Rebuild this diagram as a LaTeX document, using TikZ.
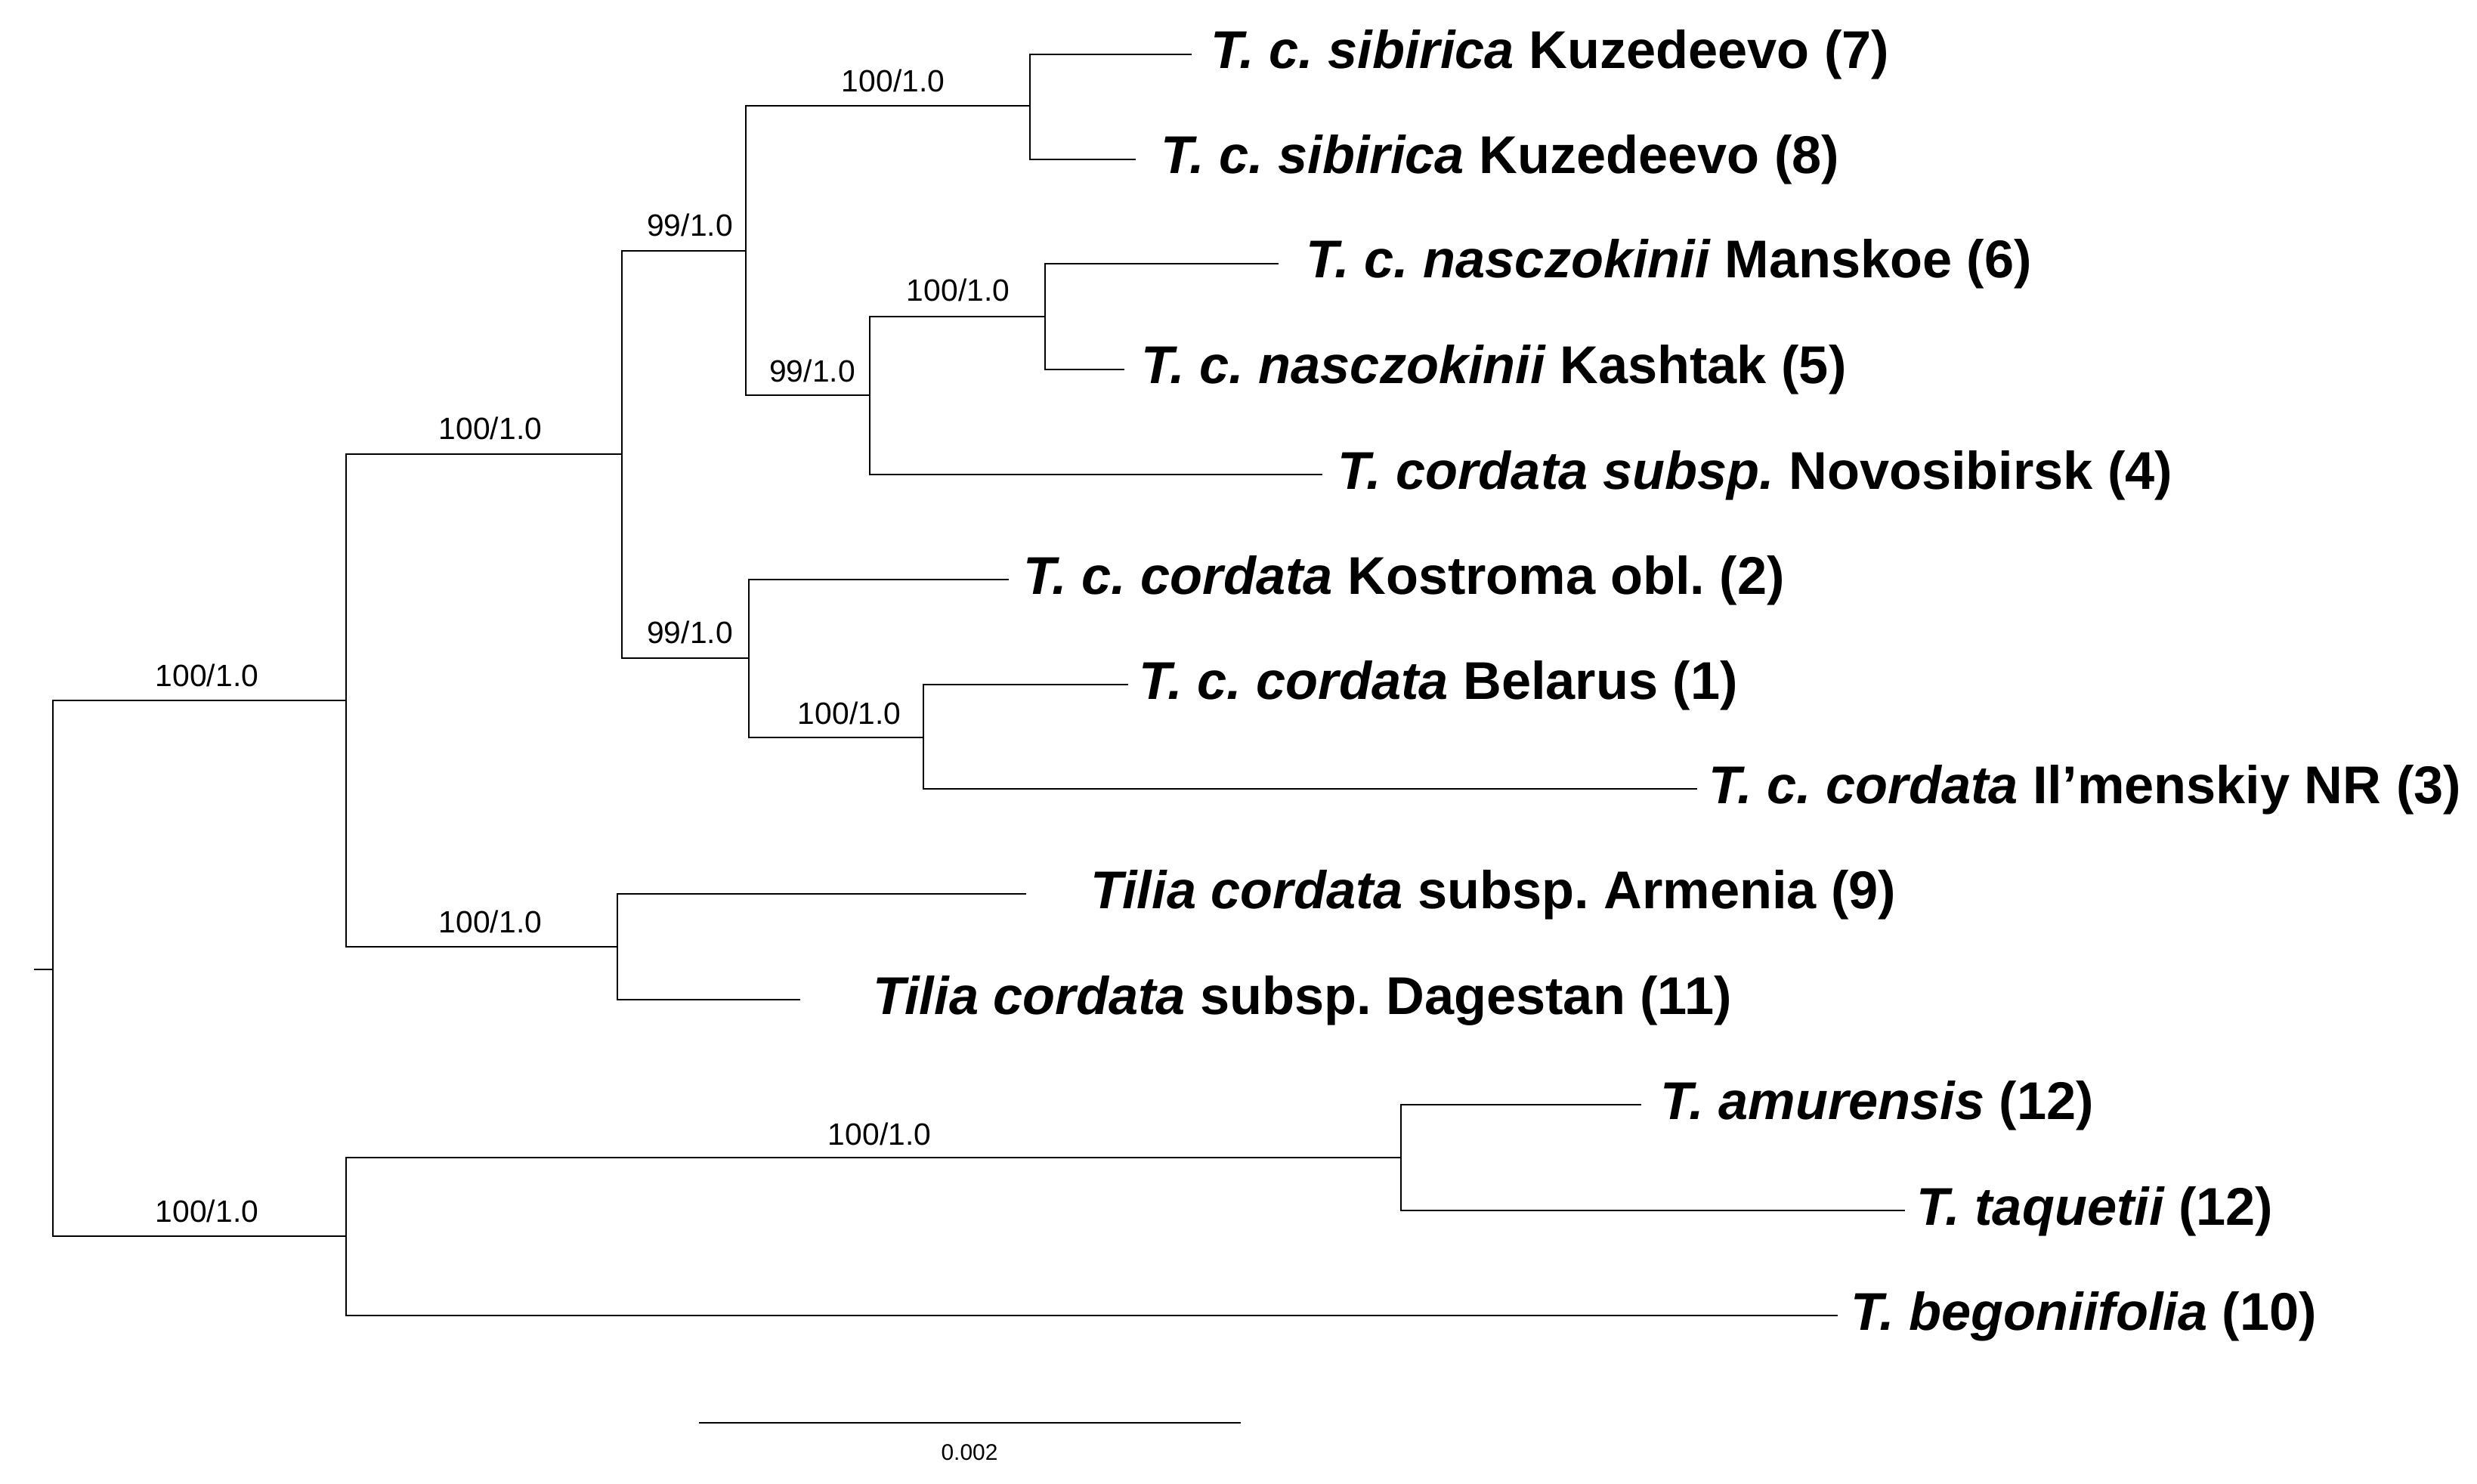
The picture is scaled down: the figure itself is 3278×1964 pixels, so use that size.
\documentclass[tikz,border=0pt]{standalone}
\usepackage{fontspec}
\setmainfont{Liberation Sans}
\frenchspacing
\begin{document}
\begin{tikzpicture}[x=0.01cm,y=-0.01cm,
  branch/.style={line width=0.65pt, black},
  tiplabel/.style={anchor=base west, inner sep=0pt, font=\fontsize{20}{24}\selectfont\bfseries},
  support/.style={anchor=base, inner sep=0pt, font=\fontsize{11.6}{14}\selectfont},
  scalelabel/.style={anchor=center, inner sep=0pt, font=\fontsize{8.5}{10}\selectfont}]
\useasboundingbox (0,0) rectangle (3278,1964);
% internal nodes
\coordinate (stub) at (45,1283);
\coordinate (R) at (70,1283);
\coordinate (A) at (458,927);
\coordinate (J) at (458,1636);
\coordinate (B) at (823,601);
\coordinate (I) at (817,1253);
\coordinate (C) at (987,332);
\coordinate (G) at (991,871);
\coordinate (D) at (1363,140);
\coordinate (E) at (1151,523);
\coordinate (F) at (1383,419);
\coordinate (H) at (1222,976);
\coordinate (K) at (1854,1532);
% tips
\coordinate (t7) at (1577,72);
\coordinate (t8) at (1503,211);
\coordinate (t6) at (1692,349);
\coordinate (t5) at (1488,489);
\coordinate (t4) at (1750,628);
\coordinate (t2) at (1335,767);
\coordinate (t1) at (1493,906);
\coordinate (t3) at (2246,1044);
\coordinate (t9) at (1358,1183);
\coordinate (t11) at (1059,1323);
\coordinate (ta) at (2172,1462);
\coordinate (tq) at (2521,1602);
\coordinate (t10) at (2432,1741);
% branches
\draw[branch] (stub) -- (R);
\draw[branch] (R) |- (A);
\draw[branch] (R) |- (J);
\draw[branch] (A) |- (B);
\draw[branch] (A) |- (I);
\draw[branch] (B) |- (C);
\draw[branch] (B) |- (G);
\draw[branch] (C) |- (D);
\draw[branch] (C) |- (E);
\draw[branch] (D) |- (t7);
\draw[branch] (D) |- (t8);
\draw[branch] (E) |- (F);
\draw[branch] (E) |- (t4);
\draw[branch] (F) |- (t6);
\draw[branch] (F) |- (t5);
\draw[branch] (G) |- (t2);
\draw[branch] (G) |- (H);
\draw[branch] (H) |- (t1);
\draw[branch] (H) |- (t3);
\draw[branch] (I) |- (t9);
\draw[branch] (I) |- (t11);
\draw[branch] (J) |- (K);
\draw[branch] (J) |- (t10);
\draw[branch] (K) |- (ta);
\draw[branch] (K) |- (tq);
% support values
\node[support] (sA) at (274,908) {100/1.0};
\node[support] (sB) at (649,582) {100/1.0};
\node[support] (sC) at (913,313) {99/1.0};
\node[support] (sD) at (1182,122) {100/1.0};
\node[support] (sE) at (1075,505) {99/1.0};
\node[support] (sF) at (1268,399) {100/1.0};
\node[support] (sG) at (913,851) {99/1.0};
\node[support] (sH) at (1124,958) {100/1.0};
\node[support] (sI) at (649,1234) {100/1.0};
\node[support] (sJ) at (274,1617) {100/1.0};
\node[support] (sK) at (1164,1515) {100/1.0};
% tip labels
\node[tiplabel] (l7) at (1602,91) {\itshape T. c. sibirica\upshape{} Kuzedeevo (7)};
\node[tiplabel] (l8) at (1536,230) {\itshape T. c. sibirica\upshape{} Kuzedeevo (8)};
\node[tiplabel] (l6) at (1728,368) {\itshape T. c. nasczokinii\upshape{} Manskoe (6)};
\node[tiplabel] (l5) at (1510,508) {\itshape T. c. nasczokinii\upshape{} Kashtak (5)};
\node[tiplabel] (l4) at (1770,647) {\itshape T. cordata subsp.\upshape{} Novosibirsk (4)};
\node[tiplabel] (l2) at (1354,786) {\itshape T. c. cordata\upshape{} Kostroma obl. (2)};
\node[tiplabel] (l1) at (1507,925) {\itshape T. c. cordata\upshape{} Belarus (1)};
\node[tiplabel] (l3) at (2261,1063) {\itshape T. c. cordata\upshape{} Il’menskiy NR (3)};
\node[tiplabel] (l9) at (1443,1202) {\itshape Tilia cordata\upshape{} subsp. Armenia (9)};
\node[tiplabel] (l11) at (1155,1342) {\itshape Tilia cordata\upshape{} subsp. Dagestan (11)};
\node[tiplabel] (la) at (2197,1481) {\itshape T. amurensis\upshape{} (12)};
\node[tiplabel] (lq) at (2536,1621) {\itshape T. taquetii\upshape{} (12)};
\node[tiplabel] (l10) at (2449,1760) {\itshape T. begoniifolia\upshape{} (10)};
% scale bar
\coordinate (sb1) at (925,1883);
\coordinate (sb2) at (1642,1883);
\draw[branch, line width=0.75pt] (sb1) -- (sb2);
\node[scalelabel] (sbl) at (1283,1922) {0.002};
\end{tikzpicture}
\end{document}
